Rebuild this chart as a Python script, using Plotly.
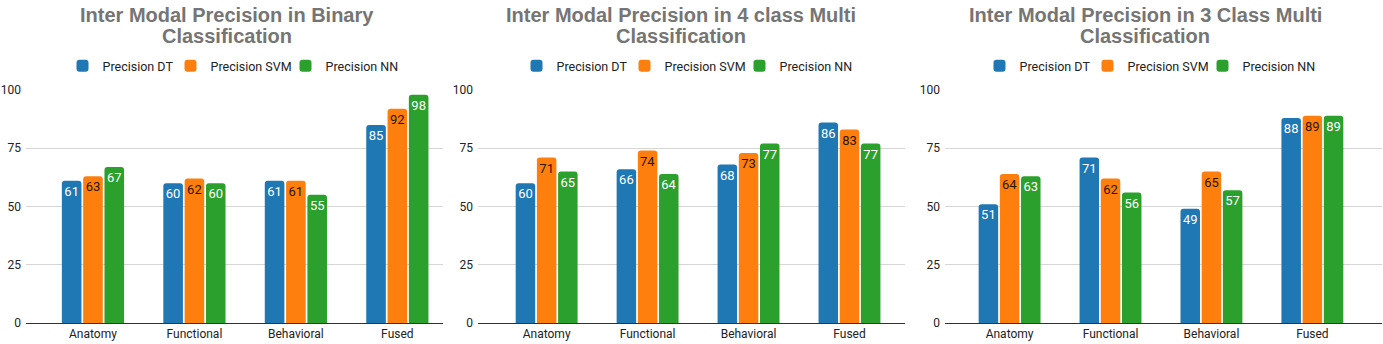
import plotly.graph_objects as go

W, H = 1383, 344

categories = ["Anatomy", "Functional", "Behavioral", "Fused"]
series_names = ["Precision DT", "Precision SVM", "Precision NN"]

title_line1 = [
    "Inter Modal Precision in Binary",
    "Inter Modal Precision in 4 class Multi",
    "Inter Modal Precision in 3 Class Multi",
]
title_line2 = ["Classification", "Classification", "Classification"]

binary_dt = [61, 60, 61, 85]
binary_svm = [63, 62, 61, 92]
binary_nn = [67, 60, 55, 98]

four_dt = [60, 66, 68, 86]
four_svm = [71, 74, 73, 83]
four_nn = [65, 64, 77, 77]

three_dt = [51, 71, 49, 88]
three_svm = [64, 62, 65, 89]
three_nn = [63, 56, 57, 89]

y_ticks = [0, 25, 50, 75, 100]

panels = [
    [binary_dt, binary_svm, binary_nn],
    [four_dt, four_svm, four_nn],
    [three_dt, three_svm, three_nn],
]

colors = ["#1f77b4", "#ff7f0e", "#2ca02c"]
text_colors = ["#ffffff", "#2a1500", "#ffffff"]
legend_widths = [63, 70, None]

# layout geometry (pixels)
x_domains_px = [(26, 443), (478, 905), (945, 1382)]
x_ranges = [(-0.66, 3.45), (-0.68, 3.55), (-0.64, 3.69)]
title_cx = [227, 681, 1145]
legend_cx = [233, 687, 1150]
y_top_px, y_bot_px = 90, 323

fig = go.Figure()
legend_ids = ["legend", "legend2", "legend3"]

for p, data in enumerate(panels):
    xa = "x" if p == 0 else f"x{p+1}"
    ya = "y" if p == 0 else f"y{p+1}"
    for s, vals in enumerate(data):
        kw = {}
        if legend_widths[s]:
            kw["legendwidth"] = legend_widths[s]
        fig.add_trace(go.Bar(
            x=list(range(len(categories))),
            y=vals,
            name=series_names[s],
            marker=dict(color=colors[s], cornerradius=3, line=dict(width=0)),
            text=[str(v) for v in vals],
            textposition="inside",
            insidetextanchor="end",
            textangle=0,
            constraintext="none",
            textfont=dict(family="Roboto", size=13, color=text_colors[s]),
            xaxis=xa, yaxis=ya,
            legend=legend_ids[p],
            hoverinfo="skip",
            **kw,
        ))

layout = dict(
    width=W, height=H,
    margin=dict(l=0, r=0, t=0, b=0, autoexpand=False),
    paper_bgcolor="white",
    plot_bgcolor="white",
    barmode="group",
    bargap=0.37,
    bargroupgap=0.08,
    showlegend=True,
    annotations=[],
)

for p in range(3):
    xk = "xaxis" if p == 0 else f"xaxis{p+1}"
    yk = "yaxis" if p == 0 else f"yaxis{p+1}"
    d0, d1 = x_domains_px[p]
    layout[xk] = dict(
        domain=[d0 / W, d1 / W],
        range=list(x_ranges[p]),
        tickmode="array",
        tickvals=list(range(len(categories))),
        ticktext=categories,
        showline=True, linecolor="#333333", linewidth=1,
        showgrid=False, zeroline=False,
        ticks="",
        automargin=False,
        tickfont=dict(family="Roboto", size=12, color="#222222"),
        anchor="y" if p == 0 else f"y{p+1}",
        fixedrange=True,
    )
    layout[yk] = dict(
        domain=[(H - y_bot_px) / H, (H - y_top_px) / H],
        range=[0, 100],
        tickmode="array",
        tickvals=y_ticks,
        showgrid=True, gridcolor="#d6d6d6", gridwidth=1,
        zeroline=False, showline=False,
        ticks="",
        automargin=False,
        ticklabelstandoff=4,
        tickfont=dict(family="Roboto", size=12, color="#222222"),
        anchor="x" if p == 0 else f"x{p+1}",
        fixedrange=True,
    )
    layout[legend_ids[p]] = dict(
        orientation="h",
        x=legend_cx[p] / W, xanchor="center",
        y=1 - 66 / H, yanchor="middle",
        font=dict(family="Roboto", size=12.5, color="#222222"),
        itemwidth=30,
        tracegroupgap=0,
        bgcolor="rgba(0,0,0,0)",
    )
    for line_text, cy in ((title_line1[p], 15), (title_line2[p], 36)):
        layout["annotations"].append(dict(
            text="<b>" + line_text + "</b>",
            x=title_cx[p] / W, y=1 - cy / H,
            xref="paper", yref="paper",
            xanchor="center", yanchor="middle",
            showarrow=False,
            font=dict(family="Liberation Sans", size=20, color="#757575"),
            align="center",
        ))

fig.update_layout(**layout)
fig.write_html("out.html")
